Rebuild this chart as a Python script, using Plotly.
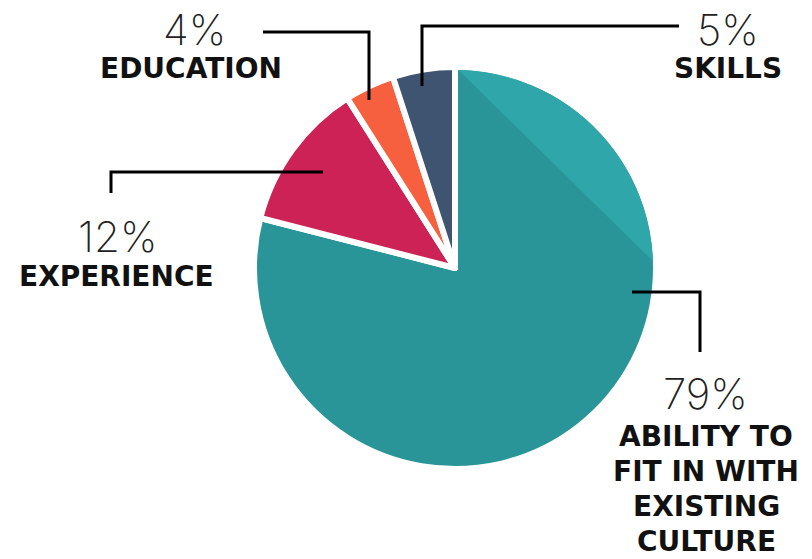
import math
import plotly.graph_objects as go

# ---- data ----
labels = ["ABILITY TO FIT IN WITH EXISTING CULTURE", "EXPERIENCE", "EDUCATION", "SKILLS"]
values = [79, 12, 4, 5]
pct_text = ["79%", "12%", "4%", "5%"]
name_text = ["ABILITY TO<br>FIT IN WITH<br>EXISTING<br>CULTURE", "EXPERIENCE", "EDUCATION", "SKILLS"]
colors = ["#2a9598", "#cc2255", "#f6603f", "#3e5471"]

W, H = 812, 559
CX, CY, R = 455, 268, 201  # pie geometry in pixels


def px(x):
    return x / W


def py(y):
    return 1 - y / H


fig = go.Figure()
fig.add_trace(go.Pie(
    labels=labels, values=values, sort=False, direction="clockwise", rotation=0,
    marker=dict(colors=colors, line=dict(color="white", width=6)),
    textinfo="none", hoverinfo="label+percent", showlegend=False,
    domain=dict(x=[px(CX - R), px(CX + R)], y=[py(CY + R), py(CY - R)]),
))

shapes = []
# lighter facet on the big slice (circular segment)
rr = R - 3
a0, a1 = 1.0, 88.0
pts = []
for i in range(41):
    a = math.radians(a0 + (a1 - a0) * i / 40)
    pts.append((CX + rr * math.sin(a), CY - rr * math.cos(a)))
path = "M " + " L ".join(f"{px(x):.5f},{py(y):.5f}" for x, y in pts) + " Z"
shapes.append(dict(type="path", xref="paper", yref="paper", path=path,
                   fillcolor="#2fa6aa", line=dict(width=0), layer="above"))

# leader lines (pixel polylines)
leaders = [
    [(632, 292), (700, 292), (700, 352)],
    [(323, 172), (111, 172), (111, 193)],
    [(369, 100), (369, 32), (263, 32)],
    [(422, 86), (422, 26), (679, 26)],
]
for poly in leaders:
    p = "M " + " L ".join(f"{px(x):.5f},{py(y):.5f}" for x, y in poly)
    shapes.append(dict(type="path", xref="paper", yref="paper", path=p,
                       line=dict(color="black", width=3), layer="above"))

# text positions (pixel centers)
pct_pos = [(705, 393), (118, 236), (194, 29), (728, 29)]
name_pos = [(706, 436), (117, 276), (191, 68), (728, 68)]
LINE_STEP = 35
ann = []
for t, (x, y) in zip(pct_text, pct_pos):
    ann.append(dict(text=t, x=px(x), y=py(y), xref="paper", yref="paper", showarrow=False,
                    xanchor="center", yanchor="middle",
                    font=dict(family="Inter", size=42, color="#222222", weight=200)))
for t, (x, y) in zip(name_text, name_pos):
    for j, line in enumerate(t.split("<br>")):
        ann.append(dict(text=line, x=px(x), y=py(y + j * LINE_STEP), xref="paper", yref="paper",
                        showarrow=False, xanchor="center", yanchor="middle", align="center",
                        font=dict(family="DejaVu Sans", size=28, color="#111111", weight="bold")))

fig.update_layout(
    width=W, height=H, margin=dict(l=0, r=0, t=0, b=0),
    paper_bgcolor="white", plot_bgcolor="white",
    shapes=shapes, annotations=ann,
)
fig.write_html("out.html")
